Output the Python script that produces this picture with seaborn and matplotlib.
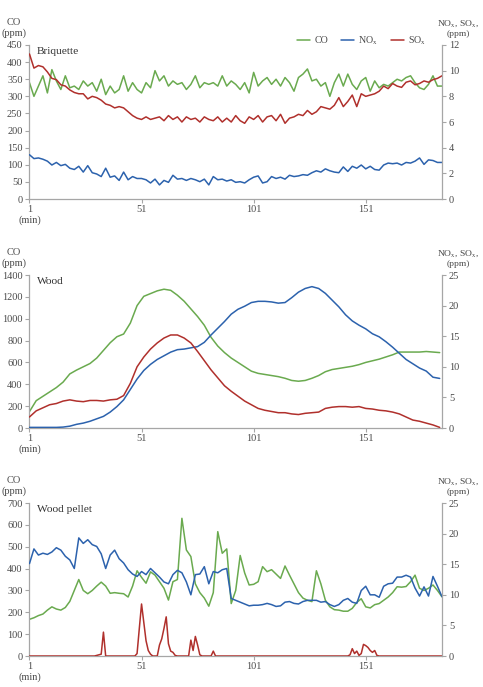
import numpy as np
import pandas as pd
import matplotlib
matplotlib.use("Agg")
from matplotlib import pyplot as plt
import seaborn as sns

# ---- data ----
brq_min = np.arange(1, 186, 2)
brq_co = [340, 300, 330, 360, 310, 378, 345, 320, 360, 325,
          330, 320, 345, 330, 340, 315, 350, 305, 330, 310,
          320, 360, 315, 340, 320, 310, 340, 325, 375, 345,
          360, 330, 345, 335, 340, 320, 335, 360, 325, 340,
          335, 340, 330, 360, 330, 345, 335, 320, 340, 310,
          370, 330, 345, 355, 335, 350, 330, 355, 340, 315,
          355, 365, 380, 345, 350, 330, 340, 300, 340, 365,
          330, 365, 335, 320, 345, 355, 315, 345, 325, 335,
          330, 340, 350, 345, 355, 360, 340, 325, 320, 335,
          360, 330, 330]
brq_nox = [3.45, 3.15, 3.2, 3.1, 2.95, 2.65, 2.85, 2.6, 2.7, 2.4,
           2.3, 2.55, 2.1, 2.6, 2.05, 1.95, 1.75, 2.4, 1.7, 1.8,
           1.45, 2.1, 1.5, 1.75, 1.6, 1.6, 1.5, 1.25, 1.55, 1.1,
           1.45, 1.3, 1.85, 1.55, 1.6, 1.45, 1.6, 1.5, 1.35, 1.55,
           1.1, 1.75, 1.5, 1.55, 1.4, 1.5, 1.3, 1.35, 1.25, 1.5,
           1.7, 1.8, 1.25, 1.35, 1.75, 1.6, 1.7, 1.55, 1.85, 1.75,
           1.8, 1.9, 1.85, 2.05, 2.2, 2.1, 2.35, 2.2, 2.1, 2.05,
           2.5, 2.15, 2.55, 2.4, 2.65, 2.35, 2.55, 2.3, 2.25, 2.65,
           2.8, 2.75, 2.8, 2.65, 2.85, 2.8, 2.95, 3.2, 2.7, 3.05,
           3.0, 2.85, 2.85]
brq_sox = [11.3, 10.2, 10.4, 10.3, 9.9, 9.4, 9.3, 8.9, 8.8, 8.5,
           8.3, 8.2, 8.2, 7.8, 8.0, 7.9, 7.7, 7.4, 7.3, 7.1,
           7.2, 7.1, 6.8, 6.5, 6.3, 6.2, 6.4, 6.2, 6.3, 6.4,
           6.1, 6.5, 6.2, 6.4, 6.0, 6.4, 6.2, 6.3, 6.0, 6.4,
           6.2, 6.1, 6.4, 6.0, 6.3, 6.0, 6.5, 6.1, 5.9, 6.4,
           6.2, 6.5, 6.0, 6.4, 6.5, 6.1, 6.6, 5.9, 6.3, 6.4,
           6.6, 6.5, 6.9, 6.6, 6.8, 7.2, 7.1, 7.0, 7.3, 7.9,
           7.2, 7.6, 8.1, 7.2, 8.2, 8.0, 8.1, 8.2, 8.4, 8.8,
           8.6, 9.0, 8.8, 8.7, 9.1, 9.2, 8.9, 9.0, 9.2, 9.1,
           9.3, 9.4, 9.6]

wood_min = np.arange(1, 186, 3)
wood_co = [150, 250, 290, 330, 370, 420, 495, 530, 560, 590,
           640, 710, 780, 835, 860, 960, 1120, 1205, 1230, 1255,
           1270, 1260, 1215, 1160, 1090, 1020, 940, 830, 750, 690,
           640, 600, 560, 520, 500, 490, 480, 470, 455, 435,
           428, 435, 455, 480, 515, 535, 545, 555, 565, 580,
           600, 615, 630, 650, 670, 695, 695, 695, 695, 700,
           695, 690]
wood_nox = [0.1, 0.1, 0.1, 0.1, 0.1, 0.15, 0.3, 0.6, 0.8, 1.1,
            1.5, 1.9, 2.6, 3.5, 4.6, 6.3, 8.0, 9.4, 10.4, 11.2,
            11.8, 12.4, 12.8, 12.9, 13.1, 13.3, 14.0, 15.2, 16.3, 17.4,
            18.6, 19.4, 19.9, 20.5, 20.7, 20.7, 20.6, 20.4, 20.5, 21.3,
            22.2, 22.8, 23.1, 22.8, 22.0, 20.9, 19.8, 18.5, 17.5, 16.8,
            16.2, 15.4, 14.9, 14.1, 13.2, 12.2, 11.2, 10.5, 9.8, 9.3,
            8.3, 8.1]
wood_sox = [1.8, 2.8, 3.3, 3.8, 4.0, 4.4, 4.6, 4.4, 4.3, 4.5,
            4.5, 4.4, 4.6, 4.7, 5.3, 7.3, 10.0, 11.6, 12.9, 13.9,
            14.7, 15.2, 15.2, 14.7, 13.9, 12.5, 11.0, 9.5, 8.2, 6.9,
            6.0, 5.2, 4.4, 3.8, 3.2, 2.9, 2.7, 2.5, 2.5, 2.3,
            2.2, 2.4, 2.5, 2.6, 3.2, 3.4, 3.5, 3.5, 3.4, 3.5,
            3.2, 3.1, 2.9, 2.8, 2.6, 2.3, 1.8, 1.3, 1.1, 0.8,
            0.5, 0.1]

pel_min = np.arange(1, 186, 2)
pel_co = [168, 175, 185, 192, 210, 225, 215, 210, 222, 250,
          300, 350, 300, 285, 300, 320, 338, 320, 287, 290,
          287, 285, 270, 320, 390, 360, 333, 385, 370, 340,
          310, 256, 340, 350, 630, 485, 455, 330, 290, 265,
          228, 290, 569, 470, 490, 240, 300, 460, 380, 325,
          328, 340, 409, 386, 395, 375, 355, 412, 370, 330,
          290, 265, 255, 249, 390, 330, 255, 225, 212, 210,
          205, 205, 218, 245, 262, 225, 220, 235, 240, 255,
          270, 290, 317, 315, 318, 340, 370, 310, 300, 310,
          325, 300, 271]
pel_nox = [15.1, 17.5, 16.5, 16.8, 16.6, 17.0, 17.7, 17.3, 16.3, 15.7,
           14.3, 19.3, 18.4, 19.0, 18.2, 17.9, 16.7, 14.3, 16.5, 17.3,
           15.9, 15.2, 14.1, 13.4, 13.0, 13.8, 13.3, 14.3, 13.6, 12.9,
           12.1, 11.8, 13.3, 14.0, 13.6, 12.1, 10.0, 13.3, 13.4, 14.6,
           11.8, 13.8, 13.6, 14.1, 14.3, 9.4, 9.1, 8.8, 8.5, 8.2,
           8.3, 8.3, 8.4, 8.6, 8.4, 8.1, 8.2, 8.8, 8.9, 8.6,
           8.5, 8.9, 9.1, 9.1, 9.1, 8.8, 8.9, 8.4, 8.1, 8.4,
           9.1, 9.4, 8.8, 8.6, 10.7, 11.4, 10.0, 10.0, 9.6, 11.4,
           11.8, 11.9, 12.9, 12.9, 13.2, 12.9, 11.1, 9.8, 11.3, 9.8,
           13.0, 11.4, 9.7]
pel_sox_min = [1, 30, 33, 34, 35, 48, 49, 50, 51, 52, 53, 54, 55, 56,
               58, 59, 60, 61, 62, 63, 64, 65, 66, 67, 72, 73, 74, 75,
               76, 77, 78, 82, 83, 84, 143, 144, 145, 146, 147, 148,
               149, 150, 151, 152, 153, 154, 155, 156, 157, 185]
pel_sox = [0, 0, 0.3, 3.9, 0, 0, 0.4, 4.5, 8.5, 5.5, 2.5, 0.9, 0.3, 0,
           0, 1.8, 2.8, 4.5, 6.4, 2.0, 0.8, 0.6, 0.1, 0, 0, 2.6, 0.9, 3.2,
           1.8, 0.2, 0, 0, 0.8, 0, 0, 0.2, 1.2, 0.4, 0.8, 0.1,
           0.4, 1.9, 1.7, 1.4, 0.9, 0.6, 0.9, 0.1, 0, 0]

panel_names = ["Briquette", "Wood", "Wood pellet"]
co_ylims = [(0, 450), (0, 1400), (0, 700)]
co_ticks = [np.arange(0, 451, 50), np.arange(0, 1401, 200), np.arange(0, 701, 100)]
gas_ylims = [(0, 12), (0, 25), (0, 25)]
gas_ticks = [np.arange(0, 13, 2), np.arange(0, 26, 5), np.arange(0, 26, 5)]
x_ticks = [1, 51, 101, 151]

GREEN = "#6aaa4f"
BLUE = "#2c62ad"
RED = "#b0302c"
AX_COLOR = "#a6a6a6"
TXT = "#4a4a4a"

sns.set_style("ticks")
plt.rcParams["font.family"] = ["Liberation Serif", "DejaVu Serif"]
plt.rcParams["mathtext.fontset"] = "stix"

fig = plt.figure(figsize=(4.83, 6.87), dpi=100)
boxes = [[0.061, 0.7103, 0.854, 0.2242],
         [0.061, 0.3770, 0.854, 0.2227],
         [0.061, 0.0451, 0.854, 0.2227]]

data = [
    (brq_min, brq_co, brq_min, brq_nox, brq_min, brq_sox),
    (wood_min, wood_co, wood_min, wood_nox, wood_min, wood_sox),
    (pel_min, pel_co, pel_min, pel_nox, pel_sox_min, pel_sox),
]

LW = 1.1
for i, (box, series) in enumerate(zip(boxes, data)):
    x_co, co, x_nox, nox, x_sox, sox = series
    ax = fig.add_axes(box)
    ax2 = ax.twinx()

    sns.lineplot(x=x_co, y=co, ax=ax, color=GREEN, lw=LW, legend=False)
    sns.lineplot(x=x_nox, y=nox, ax=ax2, color=BLUE, lw=LW, legend=False)
    sns.lineplot(x=x_sox, y=sox, ax=ax2, color=RED, lw=LW, legend=False)

    ax.set_xlim(1, 185)
    ax.set_ylim(*co_ylims[i])
    ax.set_yticks(co_ticks[i])
    ax2.set_ylim(*gas_ylims[i])
    ax2.set_yticks(gas_ticks[i])
    ax.set_xticks(x_ticks)
    ax.set_xticklabels(["1\n(min)", "51", "101", "151"])
    ax.set_xlabel("")
    ax.set_ylabel("")
    ax2.set_ylabel("")

    for a in (ax, ax2):
        a.spines["top"].set_visible(False)
        for s in ("left", "right", "bottom"):
            a.spines[s].set_color(AX_COLOR)
            a.spines[s].set_linewidth(0.9)
        a.tick_params(colors=AX_COLOR, labelcolor=TXT, labelsize=7.5,
                      length=3, width=0.8, pad=2)
    ax.spines["right"].set_visible(False)
    ax2.spines["left"].set_visible(False)
    ax2.spines["bottom"].set_visible(False)
    ax.tick_params(axis="x", pad=1.5)

    ax.text(-0.038, 1.11, "CO\n(ppm)", transform=ax.transAxes, ha="center",
            va="center", fontsize=7.5, color=TXT, linespacing=1.2)
    ax.text(1.039, 1.11, "NO$_{\\rm x}$, SO$_{\\rm x}$,\n(ppm)", transform=ax.transAxes,
            ha="center", va="center", fontsize=6.8, color=TXT, linespacing=1.2)
    ax.text(0.018, 0.985, panel_names[i], transform=ax.transAxes, ha="left",
            va="top", fontsize=8.2, color="#333333")

    if i == 0:
        handles = ax.get_lines()[:1] + ax2.get_lines()[:2]
        labels = ["CO", "NO$_{\\rm x}$", "SO$_{\\rm x}$"]
        ax.legend(handles, labels, loc="center", bbox_to_anchor=(0.806, 1.03),
                  ncol=3, frameon=False, fontsize=7.2, handlelength=1.3,
                  columnspacing=1.3, handletextpad=0.4, labelcolor=TXT)

fig.savefig("out.png", dpi=100)
